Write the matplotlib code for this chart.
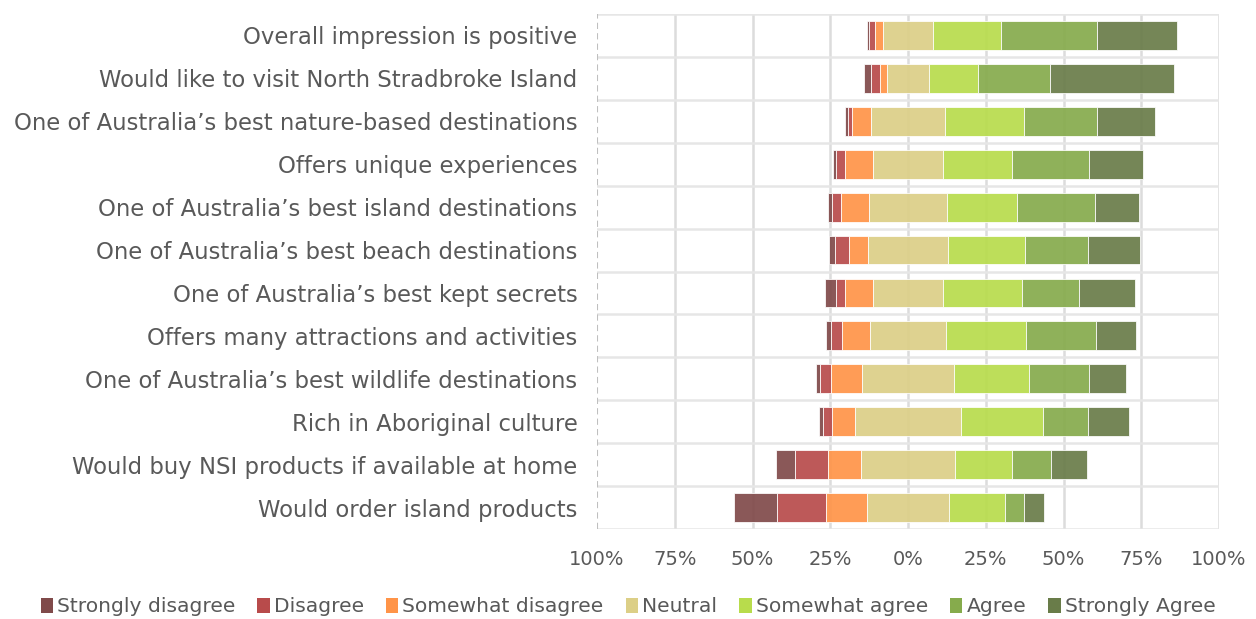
import matplotlib
matplotlib.use("Agg")
import matplotlib.pyplot as plt
from matplotlib.patches import Patch
import numpy as np

# Survey statements (top to bottom)
statements = [
    "Overall impression is positive",
    "Would like to visit North Stradbroke Island",
    "One of Australia\u2019s best nature-based destinations",
    "Offers unique experiences",
    "One of Australia\u2019s best island destinations",
    "One of Australia\u2019s best beach destinations",
    "One of Australia\u2019s best kept secrets",
    "Offers many attractions and activities",
    "One of Australia\u2019s best wildlife destinations",
    "Rich in Aboriginal culture",
    "Would buy NSI products if available at home",
    "Would order island products",
]

levels = ["Strongly disagree", "Disagree", "Somewhat disagree", "Neutral",
          "Somewhat agree", "Agree", "Strongly Agree"]

# Response shares (%) per level, one value per statement
strongly_disagree = [0.7, 2.2, 1.0, 0.9, 1.3, 1.8, 3.4, 1.7, 1.1, 1.4, 6.0, 13.8]
disagree          = [1.9, 2.9, 1.5, 3.0, 2.8, 4.4, 3.0, 3.6, 3.7, 2.8, 10.8, 15.9]
somewhat_disagree = [2.6, 2.4, 6.0, 9.1, 9.1, 6.3, 9.1, 9.0, 9.9, 7.5, 10.4, 13.1]
neutral           = [15.8, 13.3, 23.8, 22.4, 24.8, 25.6, 22.4, 24.3, 29.5, 34.1, 30.4, 26.5]
somewhat_agree    = [22.0, 15.8, 25.4, 22.3, 22.5, 24.9, 25.4, 25.9, 24.0, 26.5, 18.2, 17.8]
agree             = [30.9, 23.3, 23.4, 24.8, 25.1, 20.2, 18.5, 22.4, 19.5, 14.3, 12.6, 6.3]
strongly_agree    = [25.8, 39.9, 18.6, 17.4, 14.3, 16.8, 18.0, 12.9, 12.0, 13.3, 11.5, 6.4]

tick_values = [-100, -75, -50, -25, 0, 25, 50, 75, 100]

colors = ["#804a4a", "#b84b4b", "#ff9448", "#dccf87", "#b8dc4c", "#86ab4c", "#697c49"]

series = [strongly_disagree, disagree, somewhat_disagree, neutral,
          somewhat_agree, agree, strongly_agree]
data = np.array(series, dtype=float)  # shape (levels, statements)

text_color = "#595959"
plt.rcParams["font.family"] = ["DejaVu Sans"]

fig = plt.figure(figsize=(12.56, 6.19), dpi=100)
ax = fig.add_axes([597 / 1256, 90 / 619, 622 / 1256, 515 / 619])

n = len(statements)
y = np.arange(n)

# Diverging layout: neutral is centred on zero
start = -(data[0] + data[1] + data[2] + data[3] / 2.0)
left = start.copy()
for k in range(len(levels)):
    ax.barh(y, data[k], left=left, height=0.67, color=colors[k], alpha=0.92,
            edgecolor="white", linewidth=0.6, zorder=3)
    left = left + data[k]

ax.set_xlim(-100, 100)
ax.set_ylim(n - 0.5, -0.5)

# Grid: vertical lines at every tick, horizontal lines between rows
for v in tick_values[1:]:
    ax.axvline(v, color="#dcdcdc", lw=1.8, zorder=1)
ax.axvline(-100, color="#bfbfbf", lw=1.5, ls=(0, (3, 2)), zorder=2)
for b in np.arange(-0.5, n, 1.0):
    ax.axhline(b, color="#e6e6e6", lw=1.8, zorder=1)

for s in ax.spines.values():
    s.set_visible(False)

ax.set_xticks(tick_values)
ax.set_xticklabels([f"{abs(v)}%" for v in tick_values], color=text_color, fontsize=14)
ax.set_yticks(y)
ax.set_yticklabels(statements, color=text_color, fontsize=16.4)
ax.tick_params(axis="both", length=0)
ax.tick_params(axis="y", pad=14)
ax.tick_params(axis="x", pad=15)

handles = [Patch(facecolor=c, edgecolor="none") for c in colors]
fig.legend(handles, levels, loc="center", bbox_to_anchor=(0.5, 12 / 619),
           ncol=7, frameon=False, fontsize=14.6, handlelength=0.6, handleheight=0.7,
           handletextpad=0.2, columnspacing=1.1, labelcolor=text_color)

fig.savefig("out.png", dpi=100)
